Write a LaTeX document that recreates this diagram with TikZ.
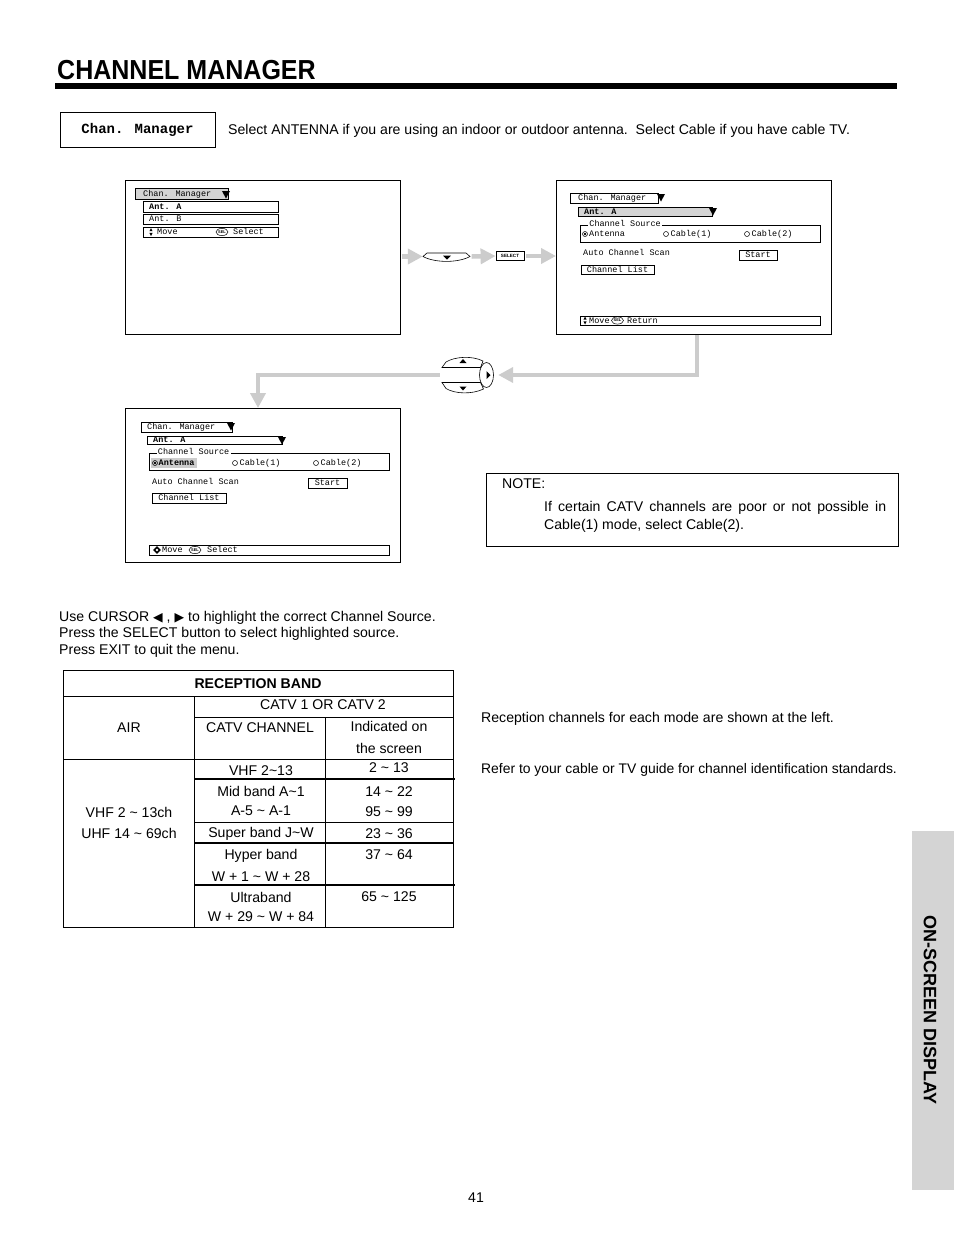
\documentclass[tikz,border=0pt]{standalone}
\usepackage{fontspec}
\usepackage{graphicx}
\setmainfont{Liberation Sans}
\newfontfamily\scrf{Liberation Mono}
\newfontfamily\dvf{DejaVu Sans}
\usetikzlibrary{arrows.meta}
\definecolor{tabgray}{RGB}{212,212,212}
\definecolor{arrgray}{RGB}{204,204,204}
\definecolor{hlgray}{RGB}{205,205,205}
\definecolor{sidegray}{RGB}{212,212,212}
\newcommand{\bodyfont}{\fontsize{14.1}{16.5}\selectfont}
\tikzset{
  body/.style={anchor=base west, inner sep=0, font=\bodyfont},
  bodyc/.style={anchor=base, inner sep=0, font=\bodyfont},
  st/.style={anchor=base west, inner sep=0, font=\scrf\fontsize{8.5}{9}\selectfont},
  stb/.style={anchor=base west, inner sep=0, font=\scrf\bfseries\fontsize{8.5}{9}\selectfont},
  stc/.style={anchor=base, inner sep=0, font=\scrf\fontsize{8.5}{9}\selectfont},
  ibox/.style={draw, line width=0.9pt},
  scrbox/.style={draw, line width=0.8pt, anchor=north west, inner sep=0, minimum width=275pt, minimum height=154pt},
  garrow/.style={draw=arrgray, line width=4.5pt, line join=miter, -{Triangle[length=15pt,width=15pt]}},
  tb/.style={line width=1pt},
  tbk/.style={line width=1.6pt},
  sel/.style={line width=0.5pt},
}
\newcommand{\updn}[2]{\fill (#1-1.6,#2-0.8) -- (#1+1.6,#2-0.8) -- (#1,#2-4) -- cycle;
  \fill (#1-1.6,#2+0.8) -- (#1+1.6,#2+0.8) -- (#1,#2+4) -- cycle;}
\newcommand{\selov}[2]{\draw[sel] (#1,#2) ellipse (6pt and 3.6pt);
  \node[inner sep=0, font=\bfseries\fontsize{4}{4}\selectfont] at (#1,#2) {SEL};}
\newcommand{\dnarr}[2]{\fill (#1-4,#2) -- (#1+4,#2) -- (#1,#2+7.5) -- cycle;
  \draw[line width=0.8pt] (#1-3,#2) -- (#1+3,#2);}
\newcommand{\curs}[1]{{\dvf\fontsize{12.5}{12}\selectfont #1}}
\begin{document}
\begin{tikzpicture}[x=1pt,y=-1pt]
\useasboundingbox (0,0) rectangle (954,1235);
\fill[white] (0,0) rectangle (954,1235);

% ---------- header ----------
\node[anchor=base west, inner sep=0, font=\bfseries\fontsize{27.5}{30}\selectfont] (title) at (57,79.5) {\scalebox{0.91}[1]{CHANNEL MANAGER}};
\fill (55,83) rectangle (897,88.5);

\node[draw, line width=0.9pt, anchor=north west, minimum width=155pt, minimum height=35pt] (cmbox) at (60,112) {};
\node[anchor=base, inner sep=0, font=\scrf\bfseries\fontsize{14}{14}\selectfont] (cmtext) at (137.5,133.5) {Chan. Manager};
\node[body] (intro) at (228,134) {Select ANTENNA if you are using an indoor or outdoor antenna.\ \ Select Cable if you have cable TV.};

% ---------- screen 1 ----------
\node[scrbox] (s1) at (125,180) {};
\draw[ibox, fill=tabgray] (135,188) rectangle (228,199);
\node[st] (s1t) at (143,196) {Chan. Manager};
\dnarr{226}{191}
\draw[ibox] (143,201) rectangle (278,212);
\node[stb] (s1a) at (149,209) {Ant. A};
\draw[ibox] (143,214) rectangle (278,224);
\node[st] (s1b) at (149,221.5) {Ant. B};
\draw[ibox] (143,227) rectangle (278,237);
\updn{151}{232}
\node[st] (s1m) at (157,234.5) {Move};
\selov{222}{232}
\node[st] (s1s) at (233,234.5) {Select};

% ---------- screen 2 ----------
\node[scrbox] (s2) at (556,180) {};
\draw[ibox] (570,193) rectangle (658,203);
\node[st] (s2t) at (578,200.5) {Chan. Manager};
\dnarr{661}{194}
\draw[ibox, fill=tabgray] (578,207) rectangle (712,216);
\node[stb] (s2a) at (584,214) {Ant. A};
\dnarr{713}{208}
\draw[ibox] (580,225) rectangle (820,242);
\node[st, fill=white, inner xsep=1.2pt] (s2g) at (588,226.5) {Channel Source};
\draw[line width=0.5pt] (585,234) circle (2.5pt); \fill (585,234) circle (1.3pt);
\node[st] (s2r1) at (589,236.5) {Antenna};
\draw[line width=0.5pt] (666,234) circle (2.5pt);
\node[st] (s2r2) at (670.5,236.5) {Cable(1)};
\draw[line width=0.5pt] (747,234) circle (2.5pt);
\node[st] (s2r3) at (751.5,236.5) {Cable(2)};
\node[st] (s2scan) at (583,255.5) {Auto Channel Scan};
\draw[ibox] (739,250) rectangle (777,260);
\node[stc] (s2st) at (758,257.5) {Start};
\draw[ibox] (581,265) rectangle (654,274);
\node[stc] (s2cl) at (617.5,272) {Channel List};
\draw[ibox] (580,316) rectangle (820,325);
\updn{585}{320.5}
\node[st] (s2m) at (589,323) {Move};
\selov{617.5}{320.5}
\node[st] (s2rt) at (627,323) {Return};

% ---------- screen 3 ----------
\node[scrbox] (s3) at (125,408) {};
\draw[ibox] (141,422) rectangle (232,432);
\node[st] (s3t) at (147,429.5) {Chan. Manager};
\dnarr{231}{423}
\draw[ibox] (147,436) rectangle (282,444);
\node[stb] (s3a) at (153,442.5) {Ant. A};
\dnarr{282}{437}
\draw[ibox] (149,453) rectangle (389,470);
\node[st, fill=white, inner xsep=1.2pt] (s3g) at (156.5,454.5) {Channel Source};
\fill[hlgray] (151,458) rectangle (197,467.5);
\draw[line width=0.5pt] (155,463) circle (2.5pt); \fill (155,463) circle (1.3pt);
\node[stb] (s3r1) at (158.5,465.5) {Antenna};
\draw[line width=0.5pt] (235,463) circle (2.5pt);
\node[st] (s3r2) at (239.5,465.5) {Cable(1)};
\draw[line width=0.5pt] (316,463) circle (2.5pt);
\node[st] (s3r3) at (320.5,465.5) {Cable(2)};
\node[st] (s3scan) at (152,484) {Auto Channel Scan};
\draw[ibox] (308,478) rectangle (347,488);
\node[stc] (s3st) at (327.5,485.5) {Start};
\draw[ibox] (152,493) rectangle (226,503);
\node[stc] (s3cl) at (189,500.5) {Channel List};
\draw[ibox] (149,545) rectangle (389,555);
\fill (157,546.2) -- (160.8,550) -- (157,553.8) -- (153.2,550) -- cycle;
\fill[white] (157,548.6) -- (158.4,550) -- (157,551.4) -- (155.6,550) -- cycle;
\node[st] (s3m) at (162,552.5) {Move};
\selov{195}{550}
\node[st] (s3s) at (207,552.5) {Select};

% ---------- buttons ----------
\node[inner sep=0, minimum width=47pt, minimum height=8pt] (dbtn) at (446.5,256.5) {};
\draw[line width=0.6pt] (423,256.5) -- (427,253) -- (466,253) -- (470,256.5)
   .. controls (458,263) and (435,263) .. cycle;
\fill (443,255.5) -- (451,255.5) -- (447,259.5) -- cycle;

\node[draw, line width=0.8pt, inner sep=0, minimum width=28pt, minimum height=8.5pt,
      font=\bfseries\fontsize{4.6}{5}\selectfont] (selbtn) at (510,256) {SELECT};

\node[inner sep=0, minimum width=52pt, minimum height=37pt] (clu) at (467.5,375) {};
\draw[line width=0.6pt] (442,367.5) -- (446,362) .. controls (455,356.5) and (472,355.5) .. (483,361)
   -- (480.5,367.5) -- cycle;
\draw[line width=0.6pt] (442,382.5) -- (480.5,382.5) -- (483.5,389)
   .. controls (472,394.5) and (455,394) .. (446,388.5) -- cycle;
\draw[line width=0.6pt] (486.5,375) ellipse (7pt and 12.5pt);
\fill (459.5,363) -- (466.5,363) -- (463,359) -- cycle;
\fill (459.5,386.5) -- (466.5,386.5) -- (463,390.5) -- cycle;
\fill (486.5,371) -- (486.5,379) -- (490.5,375) -- cycle;

% ---------- gray flow arrows ----------
\coordinate (c1) at (697,375);
\coordinate (c2) at (258,375);
\draw[garrow] (s1.east |- dbtn.west) ++(1.5,0) -- (dbtn.west);
\draw[garrow] (dbtn.east) ++(1.5,0) -- (selbtn.west);
\draw[garrow] (selbtn.east) ++(2,0) -- (s2.west |- selbtn.east);
\draw[garrow, shorten >=4.5pt] (s2.south -| c1) -- (c1) -- (clu.east);
\draw[garrow] (clu.west) ++(-1.5,0) -- (c2) -- (s3.north -| c2);

% ---------- note ----------
\node[draw, line width=1pt, anchor=north west, minimum width=412pt, minimum height=73pt] (notebox) at (486,473) {};
\node[body] (notehd) at (502,488) {NOTE:};
\node[anchor=north west, inner sep=0, text width=342pt, align=justify,
      font=\fontsize{14.1}{18}\selectfont] (notetx) at (544,501.5)
      {If certain CATV channels are poor or not possible in\linebreak Cable(1) mode, select Cable(2).};

% ---------- instructions ----------
\node[body] (ins1) at (59,621) {Use CURSOR \curs{◀} , \curs{▶} to highlight the correct Channel Source.};
\node[body] (ins2) at (59,637.5) {Press the SELECT button to select highlighted source.};
\node[body] (ins3) at (59,654) {Press EXIT to quit the menu.};

% ---------- table ----------
\draw[tb] (63,670) rectangle (453,927);
\draw[tb] (63,696) -- (453,696);
\draw[tb] (194,717) -- (453,717);
\draw[tb] (63,759) -- (453,759);
\draw[tbk] (194,779) -- (455,779);
\draw[tb] (194,822) -- (453,822);
\draw[tbk] (194,843) -- (453,843);
\draw[tbk] (194,885) -- (455,885);
\draw[tb] (194,696) -- (194,927);
\draw[tb] (325,717) -- (325,927);

\node[bodyc, font=\bfseries\bodyfont] (rb) at (258,688) {RECEPTION BAND};
\node[bodyc] (catv12) at (323,709) {CATV 1 OR CATV 2};
\node[bodyc] (air) at (129,732) {AIR};
\node[bodyc] (catvch) at (260,732) {CATV CHANNEL};
\node[bodyc] (ind1) at (389,731) {Indicated on};
\node[bodyc] (ind2) at (389,753) {the screen};
\node[bodyc] (vhf) at (129,817) {VHF 2 \textasciitilde{} 13ch};
\node[bodyc] (uhf) at (129,838) {UHF 14 \textasciitilde{} 69ch};
\node[bodyc] (r1a) at (261,775) {VHF 2\textasciitilde13};
\node[bodyc] (r1b) at (389,772) {2 \textasciitilde{} 13};
\node[bodyc] (r2a) at (261,796) {Mid band A\textasciitilde1};
\node[bodyc] (r2b) at (261,815) {A-5 \textasciitilde{} A-1};
\node[bodyc] (r2c) at (389,796) {14 \textasciitilde{} 22};
\node[bodyc] (r2d) at (389,816) {95 \textasciitilde{} 99};
\node[bodyc] (r3a) at (261,837) {Super band J\textasciitilde W};
\node[bodyc] (r3b) at (389,838) {23 \textasciitilde{} 36};
\node[bodyc] (r4a) at (261,859) {Hyper band};
\node[bodyc] (r4b) at (261,881) {W + 1 \textasciitilde{} W + 28};
\node[bodyc] (r4c) at (389,859) {37 \textasciitilde{} 64};
\node[bodyc] (r5a) at (261,902) {Ultraband};
\node[bodyc] (r5b) at (261,921) {W + 29 \textasciitilde{} W + 84};
\node[bodyc] (r5c) at (389,901) {65 \textasciitilde{} 125};

% ---------- right texts ----------
\node[body] (rt1) at (481,722) {Reception channels for each mode are shown at the left.};
\node[body, font=\fontsize{13.9}{16.5}\selectfont] (rt2) at (481,773) {Refer to your cable or TV guide for channel identification standards.};

% ---------- side tab & page number ----------
\fill[sidegray] (912,831) rectangle (954,1190);
\node[rotate=-90, inner sep=0, font=\bfseries\fontsize{18}{18}\selectfont] (side) at (930,1010) {ON-SCREEN DISPLAY};
\node[bodyc] (pgno) at (476,1202) {41};
\end{tikzpicture}
\end{document}
